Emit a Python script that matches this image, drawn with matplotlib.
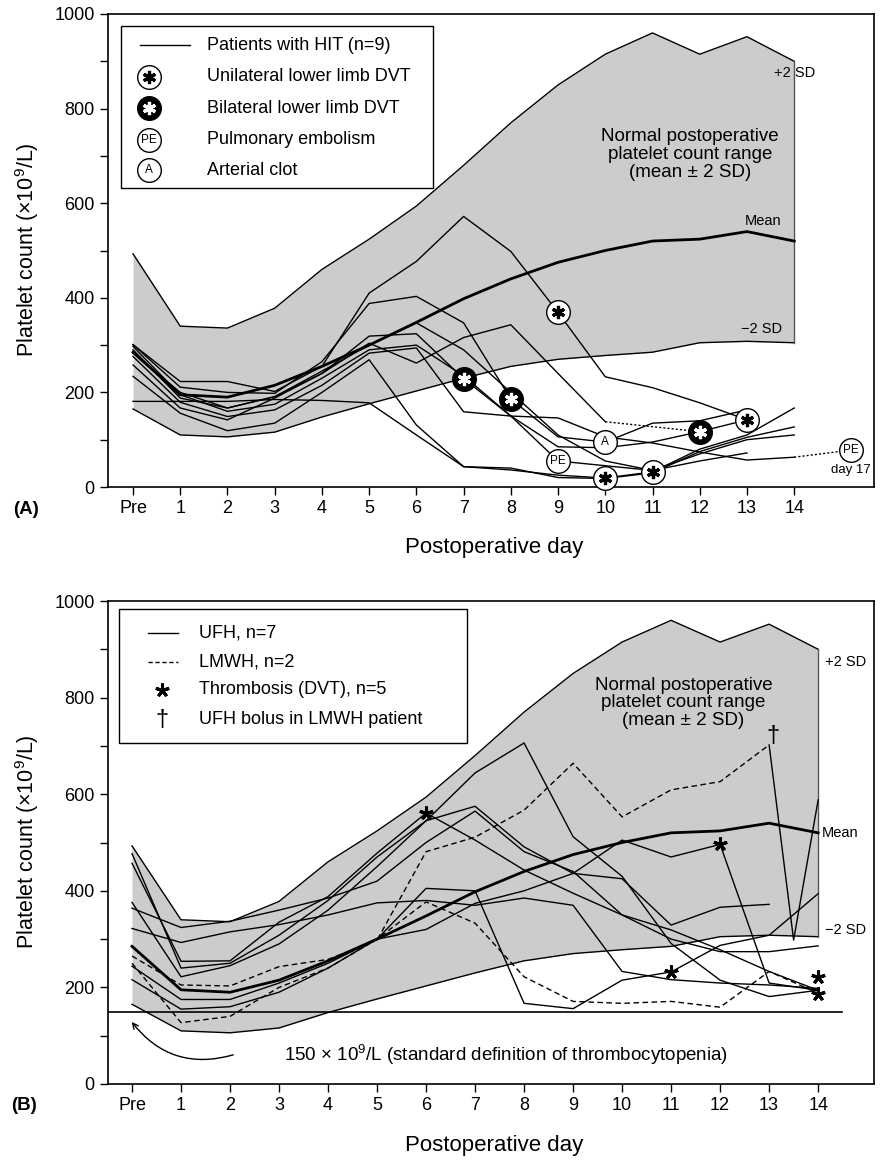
import numpy as np
import matplotlib
matplotlib.use("Agg")
import matplotlib.pyplot as plt
from matplotlib.patches import Rectangle

plt.rcParams['font.family'] = ['Liberation Sans', 'DejaVu Sans']
plt.rcParams['mathtext.fontset'] = 'custom'
plt.rcParams['mathtext.rm'] = 'Liberation Sans'
plt.rcParams['mathtext.it'] = 'Liberation Sans:italic'

# ---- data ----
days = np.arange(15)
day_labels = ['Pre'] + [str(d) for d in range(1, 15)]

# normal postoperative platelet count range (mean +/- 2 SD)
norm_upper = [493, 340, 336, 378, 460, 524, 594, 680, 770, 850, 915, 960, 915, 952, 900]
norm_mean = [285, 195, 190, 215, 255, 300, 348, 398, 440, 475, 500, 520, 524, 540, 520]
norm_lower = [165, 110, 106, 116, 148, 176, 203, 230, 255, 270, 278, 285, 305, 308, 305]

nan = np.nan
# panel A: patients with HIT (n=9)
hit_a = [
    [301, 223, 223, 202, 255, 410, 477, 572, 498, 369, 233, 210, 178, 142, nan],
    [301, 211, 200, 198, 265, 388, 403, 347, 186, 106, 95, 135, 140, 163, nan],
    [181, 181, 181, 185, 183, 178, 110, 43, 40, 20, 18, 30, 75, 105, 127],
    [290, 188, 167, 191, 240, 319, 324, 229, 150, 55, 45, 35, 55, 72, nan],
    [276, 179, 149, 163, 215, 283, 294, 159, 150, 146, 106, 93, 74, 57, 63],
    [258, 167, 142, 188, 240, 304, 262, 316, 343, 240, 138, nan, 117, 142, nan],
    [234, 156, 119, 135, 200, 269, 131, 43, 36, 25, 19, 32, 80, 110, 167],
    [297, 195, 160, 175, 230, 290, 300, 235, 150, 85, 83, 95, 117, nan, nan],
    [283, 200, 167, 191, 245, 300, 347, 290, 200, 110, 55, 35, 70, 100, 110],
]
# dotted links in panel A (from day, value) -> (to day, value)
dot_from_day = [10, 14]
dot_from_val = [138, 63]
dot_to_day = [12, 15.2]
dot_to_val = [117, 78]

# panel A events
event_kind = ['B', 'B', 'U', 'PE', 'A', 'U', 'U', 'B', 'U', 'PE']
event_day = [7, 8, 9, 9, 10, 10, 11, 12, 13, 15.2]
event_val = [229, 186, 369, 55, 95, 18, 32, 117, 142, 78]

# panel B: UFH (n=7) and LMWH (n=2)
ufh_b = [
    [376, 222, 245, 290, 360, 450, 545, 644, 706, 512, 430, 291, 215, 181, 194],
    [457, 254, 255, 335, 388, 478, 561, 505, 443, 395, 350, 319, 278, 233, 194],
    [477, 240, 250, 308, 380, 470, 545, 575, 491, 436, 425, 329, 366, 372, nan],
    [364, 324, 337, 360, 385, 420, 500, 565, 481, 440, 350, 300, 274, 274, 286],
    [322, 293, 315, 330, 350, 375, 380, 370, 385, 370, 233, 216, 209, 205, 198],
    [244, 175, 175, 209, 250, 300, 405, 400, 167, 156, 215, 232, 287, 308, 394],
    [216, 155, 160, 190, 240, 300, 320, 374, 400, 436, 505, 470, 496, 209, 194],
]
lmwh_b = [
    [265, 205, 203, 243, 258, 298, 481, 511, 567, 664, 553, 609, 626, 702, nan],
    [250, 127, 140, 200, 240, 300, 377, 333, 222, 171, 167, 171, 159, 233, 188],
]
bolus_day = [13, 13.5, 14]
bolus_val = [702, 298, 588]
dvt_day = [6, 11, 12, 14, 14]
dvt_val = [561, 232, 496, 222, 187]
threshold = 150


def circled(ax, x, y, kind, transform=None, ms=17, z=6):
    kw = {} if transform is None else {'transform': transform}
    face = 'black' if kind == 'B' else 'white'
    ax.plot([x], [y], 'o', ms=ms, mfc=face, mec='black', mew=1.0, zorder=z,
            clip_on=False, **kw)
    if kind in ('U', 'B'):
        col = 'white' if kind == 'B' else 'black'
        ax.plot([x], [y], marker=(6, 2, 0), ms=ms * 0.56, mew=2.3, color=col,
                zorder=z + 1, clip_on=False, **kw)
    else:
        ax.text(x, y, kind, ha='center', va='center', fontsize=8.5, zorder=z + 1, **kw)


def style_axes(ax, xlim):
    ax.set_xlim(*xlim)
    ax.set_ylim(0, 1000)
    ax.set_xticks(days)
    ax.set_xticklabels(day_labels, fontsize=13)
    yt = np.arange(0, 1001, 100)
    ax.set_yticks(yt)
    ax.set_yticklabels([str(v) if v % 200 == 0 else '' for v in yt], fontsize=13)
    ax.tick_params(direction='out', length=5.5, width=1, pad=4)
    for s in ax.spines.values():
        s.set_linewidth(1.2)


def draw_band(ax):
    ax.fill_between(days, norm_lower, norm_upper, color='#cccccc', lw=0, zorder=1)
    ax.plot(days, norm_upper, color='black', lw=1.0, zorder=2)
    ax.plot(days, norm_lower, color='black', lw=1.0, zorder=2)
    ax.plot([14, 14], [norm_lower[-1], norm_upper[-1]], color='#555555', lw=1.0, zorder=2)
    ax.plot(days, norm_mean, color='black', lw=2.0, zorder=3)


fig = plt.figure(figsize=(8.82, 11.7), dpi=100)
axA = fig.add_axes([108 / 882, 1 - 487 / 1170, 766 / 882, 473 / 1170])
axB = fig.add_axes([108 / 882, 1 - 1084 / 1170, 766 / 882, 483 / 1170])

# ---------- panel A ----------
style_axes(axA, (-0.53, 15.69))
draw_band(axA)
for p in hit_a:
    axA.plot(days, p, color='black', lw=1.0, zorder=4)
for x0, y0, x1, y1 in zip(dot_from_day, dot_from_val, dot_to_day, dot_to_val):
    axA.plot([x0, x1], [y0, y1], color='black', lw=1.0, ls=(0, (1.5, 1.5)), zorder=4)
for k, d, v in zip(event_kind, event_day, event_val):
    circled(axA, d, v, k)
axA.text(15.2, 36, 'day 17', ha='center', va='center', fontsize=9.5)
axA.text(14.0, 875, '+2 SD', ha='center', va='center', fontsize=10.5)
axA.text(13.35, 563, 'Mean', ha='center', va='center', fontsize=10.5)
axA.text(13.3, 335, '\u22122 SD', ha='center', va='center', fontsize=10.5)
axA.text(11.8, 703, 'Normal postoperative\nplatelet count range\n(mean \u00b1 2 SD)',
         ha='center', va='center', fontsize=13.5, linespacing=1.05)

# legend A
tA = axA.transAxes
axA.add_patch(Rectangle((0.017, 0.632), 0.407, 0.343, transform=tA, facecolor='white',
                        edgecolor='black', lw=1.0, zorder=10))
rowsA = [0.934, 0.867, 0.801, 0.734, 0.670]
labsA = ['Patients with HIT (n=9)', 'Unilateral lower limb DVT', 'Bilateral lower limb DVT',
         'Pulmonary embolism', 'Arterial clot']
axA.plot([0.042, 0.107], [rowsA[0]] * 2, color='black', lw=1.0, transform=tA, zorder=11)
for r, k in zip(rowsA[1:], ['U', 'B', 'PE', 'A']):
    circled(axA, 0.0535, r, k, transform=tA, ms=17, z=11)
for r, lab in zip(rowsA, labsA):
    axA.text(0.129, r, lab, transform=tA, ha='left', va='center', fontsize=13, zorder=12)

# ---------- panel B ----------
style_axes(axB, (-0.49, 15.14))
draw_band(axB)
for p in ufh_b:
    axB.plot(days, p, color='black', lw=1.0, zorder=4)
for p in lmwh_b:
    axB.plot(days, p, color='black', lw=1.0, ls=(0, (4, 2.5)), zorder=4)
axB.plot(bolus_day, bolus_val, color='black', lw=1.0, zorder=4)
axB.plot(dvt_day, dvt_val, ls='none', marker=(5, 2, 0), ms=10, mew=2.2, color='black', zorder=6)
axB.text(bolus_day[0] + 0.07, bolus_val[0] + 18, '\u2020', ha='center', va='center', fontsize=17)
axB.plot([-0.49, 14.49], [threshold, threshold], color='black', lw=1.2, zorder=5)
axB.text(3.1, 60, r'150 $\times$ 10$^9$/L (standard definition of thrombocytopenia)',
         ha='left', va='center', fontsize=13.5)
axB.annotate('', xy=(-0.04, 133), xytext=(2.12, 62),
             arrowprops=dict(arrowstyle='->', lw=1.0, color='black',
                             connectionstyle='arc3,rad=-0.35'))
axB.text(14.57, 874, '+2 SD', ha='center', va='center', fontsize=10.5)
axB.text(14.45, 520, 'Mean', ha='center', va='center', fontsize=10.5)
axB.text(14.55, 319, '\u22122 SD', ha='center', va='center', fontsize=10.5)
axB.text(11.25, 789, 'Normal postoperative\nplatelet count range\n(mean \u00b1 2 SD)',
         ha='center', va='center', fontsize=13.5, linespacing=1.05)

# legend B
tB = axB.transAxes
axB.add_patch(Rectangle((0.014, 0.706), 0.455, 0.277, transform=tB, facecolor='white',
                        edgecolor='black', lw=1.0, zorder=10))
rowsB = [0.934, 0.874, 0.816, 0.754]
labsB = ['UFH, n=7', 'LMWH, n=2', 'Thrombosis (DVT), n=5', 'UFH bolus in LMWH patient']
axB.plot([0.052, 0.091], [rowsB[0]] * 2, color='black', lw=1.0, transform=tB, zorder=11)
axB.plot([0.052, 0.091], [rowsB[1]] * 2, color='black', lw=1.0, ls=(0, (3, 2)),
         transform=tB, zorder=11)
axB.plot([0.0705], [rowsB[2]], marker=(5, 2, 0), ms=10, mew=2.2, color='black',
         transform=tB, zorder=11)
axB.text(0.0705, rowsB[3], '\u2020', transform=tB, ha='center', va='center',
         fontsize=17, zorder=11)
for r, lab in zip(rowsB, labsB):
    axB.text(0.119, r, lab, transform=tB, ha='left', va='center', fontsize=13, zorder=12)

# ---------- figure labels ----------
ylab = r'Platelet count ($\times$10$^9$/L)'
fig.text(27 / 882, 1 - 250 / 1170, ylab, rotation=90, ha='center', va='center', fontsize=15.5)
fig.text(27 / 882, 1 - 842 / 1170, ylab, rotation=90, ha='center', va='center', fontsize=15.5)
fig.text(494 / 882, 1 - 547 / 1170, 'Postoperative day', ha='center', va='center', fontsize=16)
fig.text(494 / 882, 1 - 1146 / 1170, 'Postoperative day', ha='center', va='center', fontsize=16)
fig.text(26 / 882, 1 - 510 / 1170, '(A)', ha='center', va='center', fontsize=13.5,
         fontweight='bold')
fig.text(24 / 882, 1 - 1106 / 1170, '(B)', ha='center', va='center', fontsize=13.5,
         fontweight='bold')

fig.savefig('out.png', dpi=100)
